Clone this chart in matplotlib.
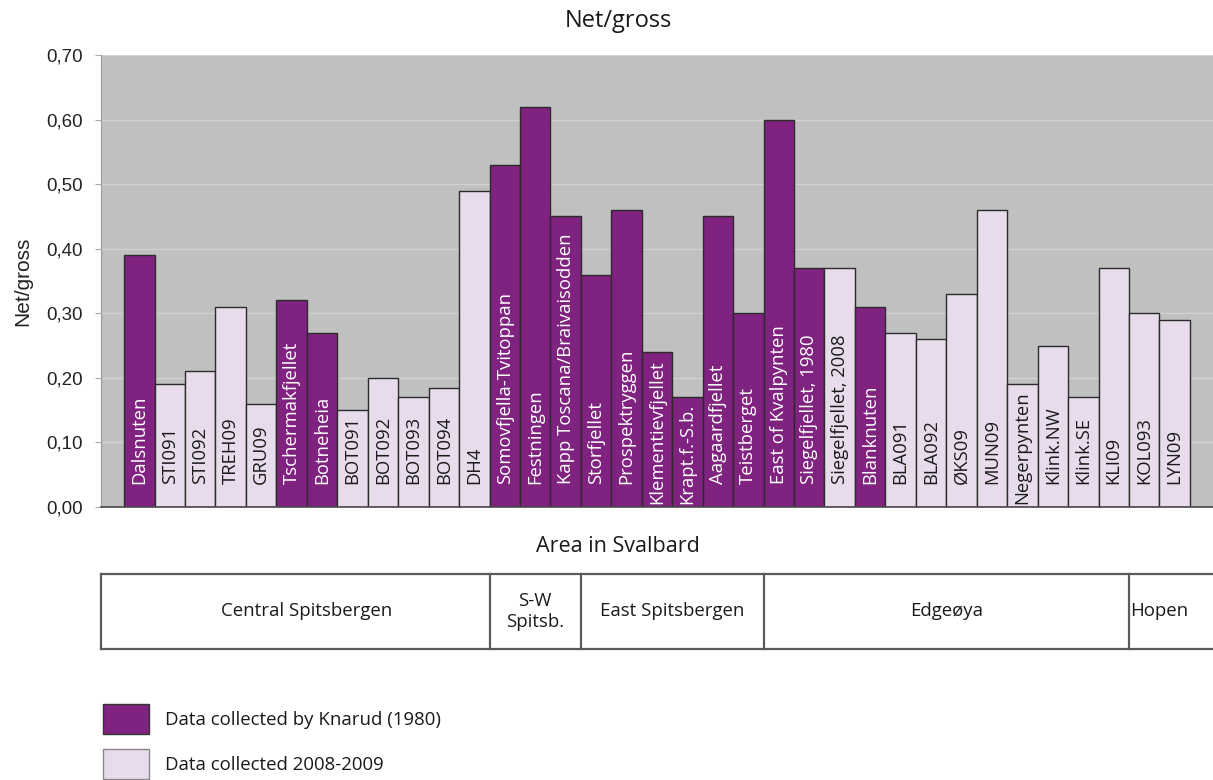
import matplotlib
matplotlib.use("Agg")
import matplotlib.pyplot as plt
from matplotlib.patches import Rectangle
from matplotlib.ticker import FuncFormatter
import numpy as np

# ---- data -------------------------------------------------------------
sites = [
    "Dalsnuten", "STI091", "STI092", "TREH09", "GRU09", "Tschermakfjellet",
    "Botneheia", "BOT091", "BOT092", "BOT093", "BOT094", "DH4",
    "Somovfjella-Tvitoppan", "Festningen", "Kapp Toscana/Braivaisodden",
    "Storfjellet", "Prospektryggen", "Klementievfjellet", "Krapt.f.-S.b.",
    "Aagaardfjellet", "Teistberget", "East of Kvalpynten",
    "Siegelfjellet, 1980", "Siegelfjellet, 2008", "Blanknuten",
    "BLA091", "BLA092", "ØKS09", "MUN09", "Negerpynten", "Klink.NW",
    "Klink.SE", "KLI09", "KOL093", "LYN09",
]
net_gross = [
    0.39, 0.19, 0.21, 0.31, 0.16, 0.32,
    0.27, 0.15, 0.20, 0.17, 0.185, 0.49,
    0.53, 0.62, 0.45,
    0.36, 0.46, 0.24, 0.17,
    0.45, 0.30, 0.60,
    0.37, 0.37, 0.31,
    0.27, 0.26, 0.33, 0.46, 0.19, 0.25,
    0.17, 0.37, 0.30, 0.29,
]
# True = Knarud (1980), False = collected 2008-2009
knarud = [
    True, False, False, False, False, True,
    True, False, False, False, False, False,
    True, True, True,
    True, True, True, True,
    True, True, True,
    True, False, True,
    False, False, False, False, False, False,
    False, False, False, False,
]
regions = ["Central Spitsbergen", "S-W\nSpitsb.", "East Spitsbergen", "Edgeøya", "Hopen"]
sites_per_region = [12, 3, 6, 12, 2]
y_ticks = [0.0, 0.1, 0.2, 0.3, 0.4, 0.5, 0.6, 0.7]
legend_labels = ["Data collected by Knarud (1980)", "Data collected 2008-2009"]

# ---- style ------------------------------------------------------------
DARK = "#7f2280"
LIGHT = "#e8dcec"
BG = "#c0c0c0"
GRID = "#d2d2d2"
SANS = ["Open Sans", "DejaVu Sans"]
ARIAL = ["Liberation Sans", "DejaVu Sans"]

W, H = 1213, 780
fig = plt.figure(figsize=(W / 100, H / 100), dpi=100)

def fx(px):
    return px / W

def fy(py):
    return 1 - py / H

ax = fig.add_axes([fx(101), fy(507), fx(1112), 452 / H])
ax.set_facecolor(BG)
xlim = (-1.26, len(sites) - 1 + 1.26)
ax.set_xlim(*xlim)
ax.set_ylim(0, 0.70)

for t in y_ticks[1:]:
    ax.axhline(t, color=GRID, lw=1.0, zorder=0.5)

x = np.arange(len(sites))
colors = [DARK if k else LIGHT for k in knarud]
ax.bar(x, net_gross, width=1.0, color=colors, edgecolor="#2b2b2b",
       linewidth=1.0, zorder=2)

# Site names run up from the foot of each bar; a name that would poke out
# of a short bar is dropped down to the very bottom instead.
renderer = fig.canvas.get_renderer()
for xi, name, val, k in zip(x, sites, net_gross, knarud):
    txt = ax.text(xi, 0.035, name, rotation=90, rotation_mode="anchor",
                  ha="left", va="center", fontsize=13.3, family=SANS,
                  color="white" if k else "#1a1a1a", zorder=3)
    top_px = txt.get_window_extent(renderer).y1
    bar_px = ax.transData.transform((xi, val))[1]
    if top_px > bar_px - 4:
        txt.set_y(0.004)

ax.set_yticks(y_ticks)
ax.yaxis.set_major_formatter(FuncFormatter(lambda v, _: f"{v:.2f}".replace(".", ",")))
ax.tick_params(axis="y", length=4.3, color="#aaaaaa", pad=8.6, labelsize=13.5,
               labelcolor="#222222")
for lbl in ax.get_yticklabels():
    lbl.set_family(ARIAL)
ax.set_xticks([])
for side in ("top", "right"):
    ax.spines[side].set_visible(False)
ax.spines["left"].set_color("#9a9a9a")
ax.spines["bottom"].set_color("#4a4a4a")
ax.spines["bottom"].set_linewidth(1.2)

ax.set_ylabel("Net/gross", fontsize=15, family=ARIAL, color="#222222")
ax.yaxis.set_label_coords(-0.062, 0.5)

fig.text(fx(618), fy(21), "Net/gross", ha="center", va="center",
         fontsize=17, family=SANS, color="#1a1a1a")
fig.text(fx(618), fy(547), "Area in Svalbard", ha="center", va="center",
         fontsize=15.5, family=SANS, color="#1a1a1a")

# ---- region table below the axis --------------------------------------
tab = fig.add_axes([fx(101), fy(649), fx(1112), 75 / H])
tab.set_xlim(*xlim)
tab.set_ylim(0, 1)
tab.axis("off")
ends = np.cumsum(sites_per_region)
starts = ends - np.array(sites_per_region)
region_edges = [xlim[0]] + list(ends[:-1] - 0.5) + [xlim[1]]
line_kw = dict(color="#5a5a5a", lw=1.6, clip_on=False)
tab.plot([xlim[0], xlim[1]], [1, 1], **line_kw)
tab.plot([xlim[0], xlim[1]], [0, 0], **line_kw)
for e in region_edges[:-1]:
    tab.plot([e, e], [0, 1], **line_kw)
for name, s, e in zip(regions, starts, ends):
    tab.text((s + e - 1) / 2, 0.5, name, ha="center", va="center",
             fontsize=13.4, family=SANS, color="#1a1a1a", linespacing=1.25)

# ---- legend ------------------------------------------------------------
for (top, face, edge), label in zip(
        [(704, DARK, "#333333"), (749, LIGHT, "#888888")], legend_labels):
    fig.patches.append(Rectangle((fx(103), fy(top + 30)), fx(46), 30 / H,
                                 transform=fig.transFigure, facecolor=face,
                                 edgecolor=edge, lw=1.0))
    fig.text(fx(165), fy(top + 16), label, ha="left", va="center",
             fontsize=13.4, family=SANS, color="#1a1a1a")

fig.savefig("out.png", dpi=100, facecolor="white")
